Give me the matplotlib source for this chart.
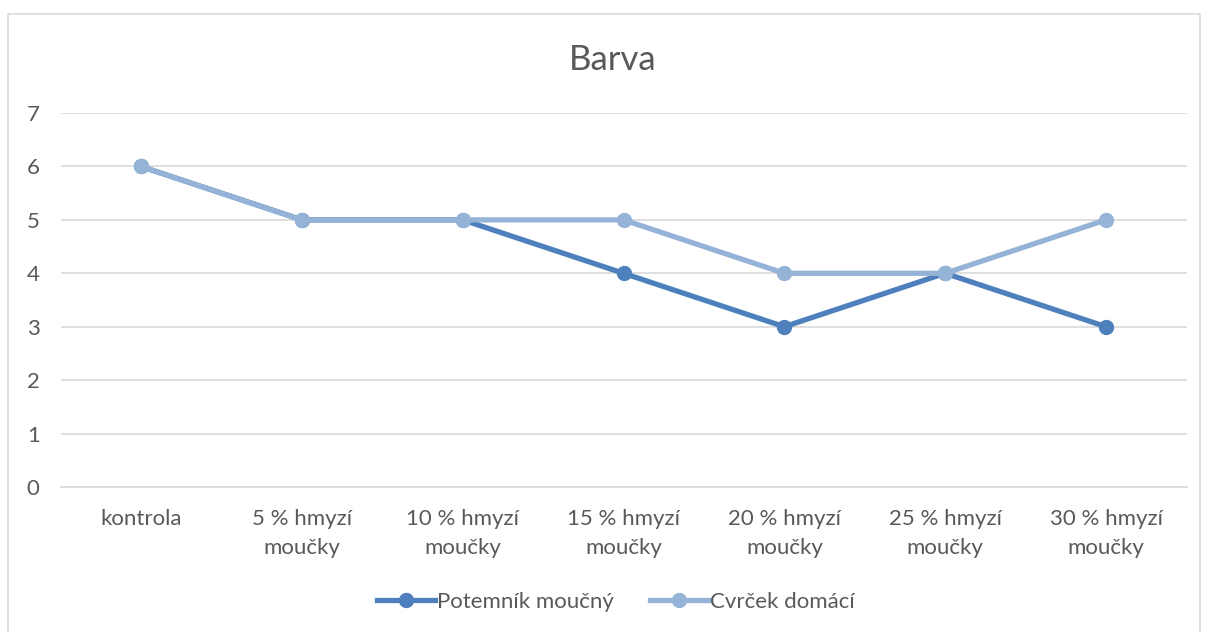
import matplotlib
matplotlib.use("Agg")
import matplotlib.pyplot as plt
from matplotlib.patches import Rectangle

categories = ["kontrola", "5 % hmyzí\nmoučky", "10 % hmyzí\nmoučky", "15 % hmyzí\nmoučky",
              "20 % hmyzí\nmoučky", "25 % hmyzí\nmoučky", "30 % hmyzí\nmoučky"]
potemnik = [6, 5, 5, 4, 3, 4, 3]
cvrcek = [6, 5, 5, 5, 4, 4, 5]
series_names = ["Potemník moučný", "Cvrček domácí"]
title = "Barva"

plt.rcParams['font.family'] = ['Lato', 'DejaVu Sans']
txt = "#595959"
W, H = 1209, 632
fig = plt.figure(figsize=(W/100, H/100), dpi=100)
fig.patches.append(Rectangle((8/W, -0.01), 1192/W, 1 - 14/H + 0.01, transform=fig.transFigure,
                             fill=False, edgecolor="#D9D9D9", linewidth=1.2))
ax = fig.add_axes([60.5/W, 1 - 487/H, (1186.5 - 60.5)/W, (487 - 113)/H])
x = list(range(len(categories)))
ax.plot(x, potemnik, color="#4D80BC", lw=3.8, marker="o", ms=10, label=series_names[0], zorder=3)
ax.plot(x, cvrcek, color="#95B3D7", lw=3.8, marker="o", ms=10, label=series_names[1], zorder=4)
ax.set_xlim(-0.5, len(categories) - 0.5)
ax.set_ylim(0, 7)
ax.set_yticks(range(0, 8))
ax.set_xticks(x)
ax.set_xticklabels(categories, linespacing=1.55)
ax.grid(axis="y", color="#D9D9D9", lw=1.2)
ax.set_axisbelow(True)
for s in ["top", "right", "left"]:
    ax.spines[s].set_visible(False)
ax.spines["bottom"].set_color("#D9D9D9")
ax.spines["bottom"].set_linewidth(1.2)
ax.tick_params(length=0, labelsize=16, colors=txt)
ax.tick_params(axis="x", pad=16)
ax.tick_params(axis="y", pad=15)
fig.text(613/W, 1 - 60/H, title, ha="center", va="center", fontsize=25, color=txt)
leg = fig.legend(loc="center", bbox_to_anchor=(616/W, 1 - 602/H), ncol=2, frameon=False,
                 fontsize=16, labelcolor=txt, handlelength=2.6, columnspacing=1.6, handletextpad=0.1)
fig.savefig("out.png", dpi=100)
